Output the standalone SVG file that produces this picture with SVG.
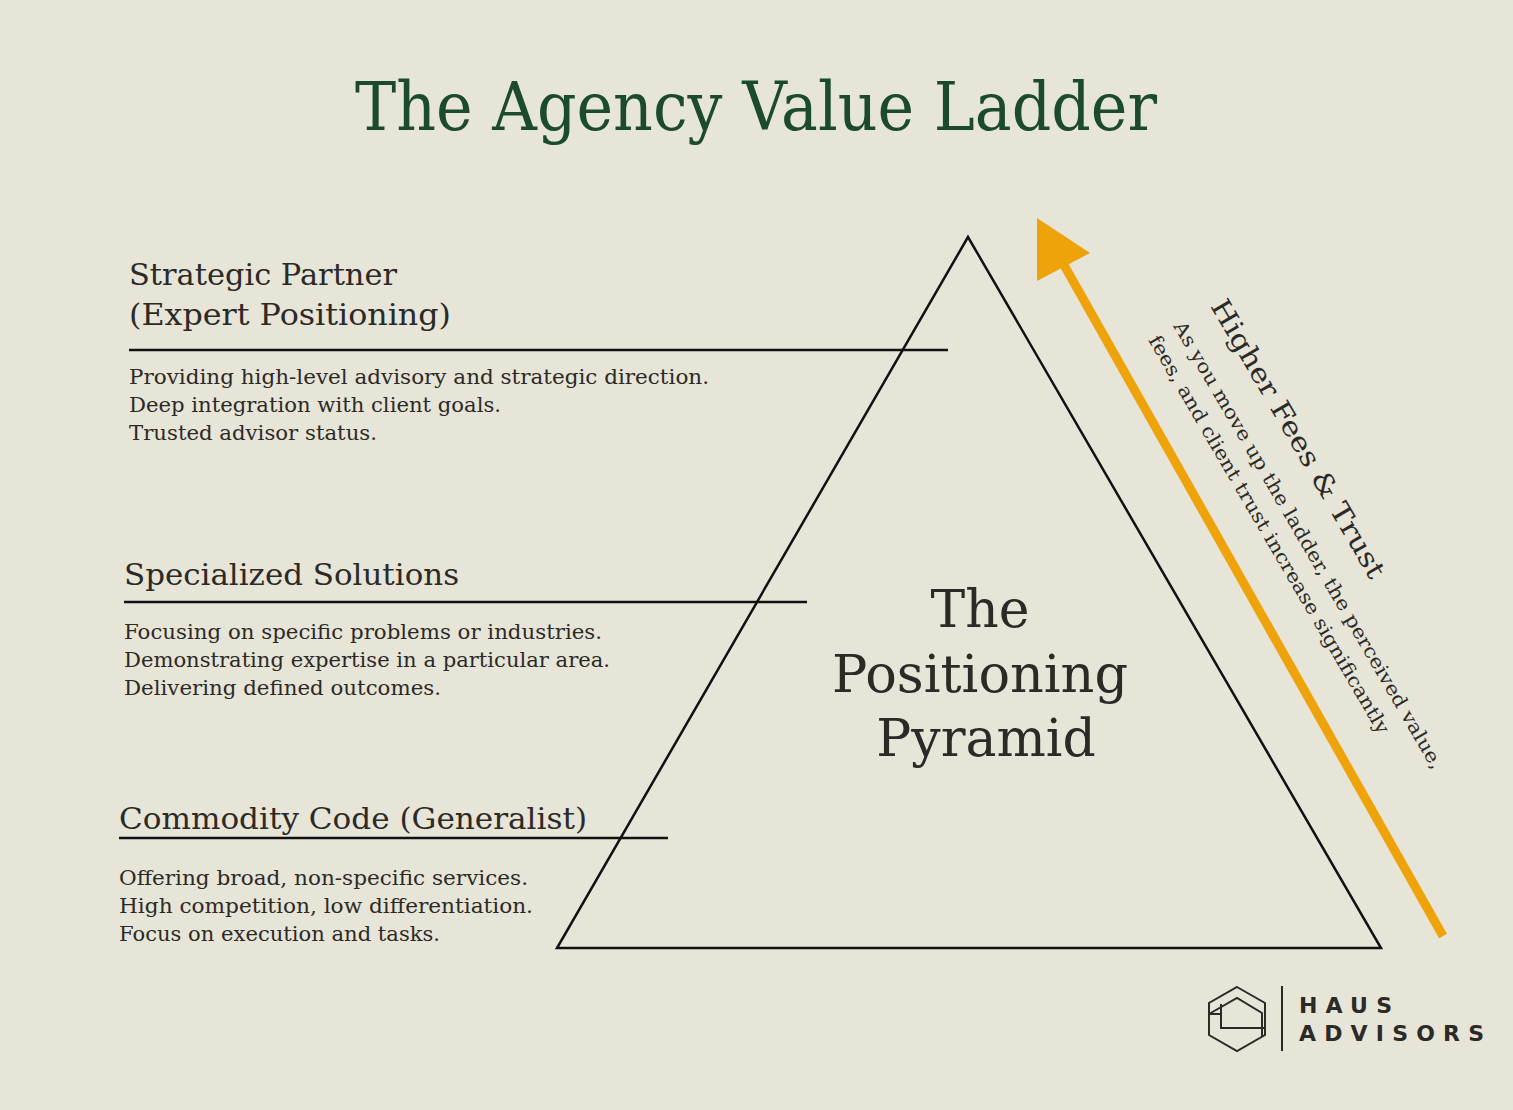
<svg xmlns="http://www.w3.org/2000/svg" width="1513" height="1110" viewBox="0 0 1513 1110">
<style>
.s{font-family:"DejaVu Serif","Liberation Serif",serif;fill:#2b2a26}
.h{font-size:30px}
.b{font-size:20px}
.c{font-size:52px;text-anchor:middle}
.ln{stroke:#111;stroke-width:2.5;fill:none}
.lg{font-family:"DejaVu Sans","Liberation Sans",sans-serif;font-size:22px;fill:#2b2a26;font-weight:bold}
</style>
<rect width="1513" height="1110" fill="#e7e4d8"/>
<text x="756" y="130" text-anchor="middle" style="font-family:'DejaVu Serif','Liberation Serif',serif;font-size:68px;fill:#1b4a2e" textLength="802" lengthAdjust="spacingAndGlyphs">The Agency Value Ladder</text>
<g id="pyramid">
<polygon class="ln" points="968,237 557,948 1381,948"/>
<text class="s c" x="980" y="627">The</text>
<text class="s c" x="980" y="692" textLength="296" lengthAdjust="spacingAndGlyphs">Positioning</text>
<text class="s c" x="986" y="756">Pyramid</text>
</g>
<g id="tier-strategic">
<text class="s h" x="129" y="285" textLength="268" lengthAdjust="spacingAndGlyphs">Strategic Partner</text>
<text class="s h" x="129" y="325" textLength="322" lengthAdjust="spacingAndGlyphs">(Expert Positioning)</text>
<text class="s b" x="129" y="384" textLength="580" lengthAdjust="spacingAndGlyphs">Providing high-level advisory and strategic direction.</text>
<text class="s b" x="129" y="412" textLength="372" lengthAdjust="spacingAndGlyphs">Deep integration with client goals.</text>
<text class="s b" x="129" y="440" textLength="248" lengthAdjust="spacingAndGlyphs">Trusted advisor status.</text>
</g>
<g id="tier-specialized">
<text class="s h" x="124" y="585" textLength="335" lengthAdjust="spacingAndGlyphs">Specialized Solutions</text>
<text class="s b" x="124" y="639" textLength="478" lengthAdjust="spacingAndGlyphs">Focusing on specific problems or industries.</text>
<text class="s b" x="124" y="667" textLength="486" lengthAdjust="spacingAndGlyphs">Demonstrating expertise in a particular area.</text>
<text class="s b" x="124" y="695" textLength="317" lengthAdjust="spacingAndGlyphs">Delivering defined outcomes.</text>
</g>
<g id="tier-commodity">
<text class="s h" x="119" y="829" textLength="468" lengthAdjust="spacingAndGlyphs">Commodity Code (Generalist)</text>
<text class="s b" x="119" y="885" textLength="409" lengthAdjust="spacingAndGlyphs">Offering broad, non-specific services.</text>
<text class="s b" x="119" y="913" textLength="414" lengthAdjust="spacingAndGlyphs">High competition, low differentiation.</text>
<text class="s b" x="119" y="941" textLength="321" lengthAdjust="spacingAndGlyphs">Focus on execution and tasks.</text>
</g>
<g id="connectors">
<line class="ln" x1="129" y1="350" x2="948" y2="350"/>
<line class="ln" x1="124" y1="602" x2="807" y2="602"/>
<line class="ln" x1="119" y1="838" x2="668" y2="838"/>
<line x1="1443" y1="936" x2="1060" y2="258" stroke="#eea30b" stroke-width="9"/>
<polygon points="1037,218 1090,253 1037,281" fill="#eea30b"/>
</g>
<g id="arrow-label">
<text class="s" x="1210" y="306" transform="rotate(59.7 1210 306)" font-size="27" textLength="318" lengthAdjust="spacingAndGlyphs">Higher Fees &amp; Trust</text>
<text class="s" x="1173" y="326" transform="rotate(59.7 1173 326)" font-size="19" textLength="515" lengthAdjust="spacingAndGlyphs">As you move up the ladder, the perceived value,</text>
<text class="s" x="1148" y="340" transform="rotate(59.7 1148 340)" font-size="19" textLength="458" lengthAdjust="spacingAndGlyphs">fees, and client trust increase significantly</text>
</g>
<g id="logo" fill="none" stroke="#2b2a26" stroke-width="2">
<polygon points="1237,987 1265,1003 1265,1035 1237,1051 1209,1035 1209,1003"/>
<polyline points="1209,1014 1237,998 1262,1013 1262,1037"/>
<polyline points="1221,1004 1221,1028 1265,1028"/>
<line x1="1209" y1="1014" x2="1221" y2="1014"/>
<line x1="1282" y1="986" x2="1282" y2="1051"/>
</g>
<text class="lg" x="1299" y="1013" textLength="93" lengthAdjust="spacing">HAUS</text>
<text class="lg" x="1299" y="1041" textLength="185" lengthAdjust="spacing">ADVISORS</text>
</svg>
